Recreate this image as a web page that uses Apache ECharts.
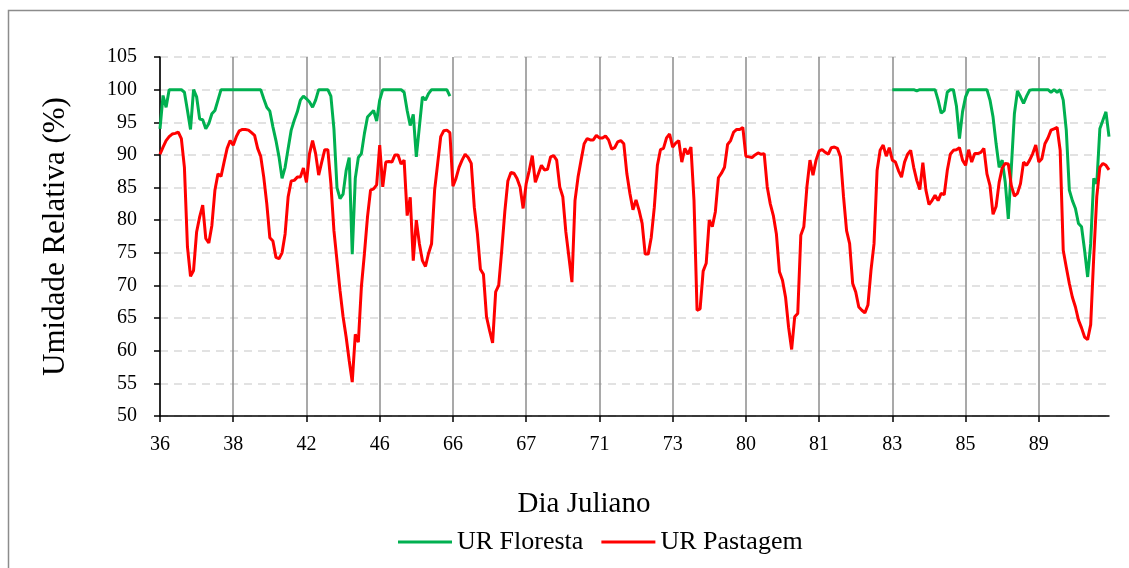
<!DOCTYPE html>
<html>
<head>
<meta charset="utf-8">
<script src="https://cdn.jsdelivr.net/npm/echarts@6/dist/echarts.min.js"></script>
<style>
html,body{margin:0;padding:0;background:#fff;}
#c{width:1129px;height:568px;}
</style>
</head>
<body>
<div id="c"></div>
<script>
// Tick labels (Julian day at each day boundary, hourly data)
const dayLabels = ['36','38','42','46','66','67','71','73','80','81','83','85','89'];
const hoursPerDay = 24;

// UR Pastagem (%), hourly, one row per day
const urPastagem = [
  90.1,91.2,92.2,92.8,93.2,93.3,93.5,92.5,88.1,75.9,71.4,72.3,78.2,80.5,82.3,77.2,76.5,79.2,84.6,87.1,86.7,88.9,91.0,92.2,
  91.5,92.8,93.7,93.9,93.9,93.8,93.4,93.0,91.0,89.8,86.6,82.5,77.3,76.8,74.3,74.1,75.0,77.9,83.6,86.0,86.1,86.6,86.6,88.0,
  85.8,90.2,92.2,90.2,86.9,88.9,90.8,90.8,85.6,78.4,73.8,69.2,65.2,62.1,58.5,55.2,62.5,61.3,69.8,74.9,80.5,84.6,84.8,85.4,
  91.5,85.1,88.9,89.0,88.9,90.0,90.0,88.6,89.2,80.7,83.5,73.8,80.0,76.4,73.8,72.9,74.9,76.4,84.6,88.7,92.8,93.7,93.8,93.4,
  85.2,86.4,88.1,89.2,90.1,89.6,88.7,82.0,78.0,72.5,71.7,65.2,63.1,61.2,69.0,70.0,75.4,81.3,86.0,87.3,87.2,86.4,85.1,81.8,
  85.6,87.6,89.9,85.8,87.1,88.4,87.7,87.8,89.7,89.9,89.2,85.1,83.6,78.2,74.4,70.5,83.0,86.6,89.2,91.7,92.5,92.3,92.3,93.0,
  92.6,92.6,92.9,92.3,90.9,91.1,92.0,92.2,91.7,87.1,84.1,81.6,83.1,81.5,79.5,74.8,74.8,77.4,82.0,88.4,90.8,91.0,92.6,93.2,
  91.2,91.8,92.2,88.9,91.0,90.1,91.2,83.0,66.2,66.4,72.2,73.4,80.0,79.0,81.3,86.5,87.2,88.1,91.6,92.2,93.5,93.9,93.9,94.2,
  89.8,89.7,89.6,90.0,90.3,90.1,90.2,85.1,82.5,80.7,77.9,72.1,70.8,68.2,63.6,60.2,65.2,65.7,77.7,79.0,85.1,89.2,86.9,89.2,
  90.6,90.8,90.4,90.1,91.1,91.2,91.0,89.7,83.6,78.4,76.4,70.3,69.0,66.7,66.2,65.8,67.0,72.3,76.4,87.6,90.7,91.5,89.8,91.1,
  89.2,88.9,87.6,86.6,88.9,90.1,90.7,88.1,86.1,84.7,88.8,84.6,82.4,83.0,83.8,83.0,84.1,83.9,87.6,90.1,90.7,90.8,91.1,89.2,
  88.4,90.8,88.9,90.2,90.2,90.4,91.0,87.1,85.3,80.9,82.1,85.8,88.0,88.7,88.6,85.3,83.7,84.1,85.6,88.9,88.4,89.2,90.2,91.5,
  88.9,89.4,91.7,92.6,93.8,94.0,94.2,90.7,75.4,72.8,70.3,68.2,66.7,64.7,63.5,62.1,61.7,64.0,74.4,83.6,88.1,88.7,88.4,87.7
];

// UR Floresta (%), hourly: first block (days 36-46) and last block (days 83-89+); no data in between
const urFlorestaA = [
  94.0,99.1,97.3,100,100,100,100,100,99.6,96.8,93.9,100,98.9,95.5,95.4,94.0,94.8,96.3,96.8,98.4,100,100,100,100,
  100,100,100,100,100,100,100,100,100,100,98.6,97.3,96.7,94.3,92.2,89.7,86.4,88.1,91.0,93.8,95.3,96.6,98.4,99.0,
  98.6,98.1,97.3,98.4,100,100,100,100,99.0,94.0,85.0,83.3,84.0,87.6,89.6,74.8,86.4,89.6,90.2,93.3,95.8,96.3,96.8,95.2,
  98.4,100,100,100,100,100,100,100,99.6,96.8,94.5,96.2,89.7,94.3,98.9,98.4,99.4,100,100,100,100,100,100,99.0
];
const florestaBStart = 240; // hour index where the second block begins (day 83)
const urFlorestaB = [
  100,100,100,100,100,100,100,100,99.8,100,100,100,100,100,100,98.4,96.4,96.8,99.6,100,100,97.5,92.5,96.6,
  98.9,100,100,100,100,100,100,100,98.4,95.8,91.7,88.1,89.2,85.8,80.2,88.1,96.3,99.8,98.9,97.9,99.0,99.9,100,100,
  100,100,100,100,99.6,100,99.6,100,98.4,93.8,84.6,83.0,81.8,79.5,79.0,75.4,71.3,76.4,86.4,85.6,94.0,95.3,96.6,92.8
];

const N = urPastagem.length;
const categories = Array.from({length: N}, (_, i) => String(i));
const urFloresta = urFlorestaA.concat(
  new Array(florestaBStart - urFlorestaA.length).fill(null),
  urFlorestaB
);

const serif = '"Liberation Serif","Times New Roman",serif';
const chart = echarts.init(document.getElementById('c'));
chart.setOption({
  animation: false,
  backgroundColor: '#fff',
  grid: {left: 160, right: 20, top: 57, bottom: 152, containLabel: false},
  xAxis: {
    type: 'category',
    data: categories,
    boundaryGap: false,
    axisLine: {lineStyle: {color: '#000', width: 1.5}},
    axisTick: {show: true, interval: hoursPerDay - 1, length: 6, lineStyle: {color: '#000', width: 1.5}},
    axisLabel: {
      interval: hoursPerDay - 1,
      formatter: (v, i) => (i % hoursPerDay === 0 ? (dayLabels[i / hoursPerDay] || '') : ''),
      color: '#000', fontFamily: serif, fontSize: 20, margin: 19
    },
    splitLine: {show: true, interval: hoursPerDay - 1, lineStyle: {color: '#8c8c8c', width: 1.5}}
  },
  yAxis: {
    type: 'value',
    min: 50, max: 105, interval: 5,
    name: 'Umidade Relativa (%)',
    nameLocation: 'middle',
    nameGap: 89,
    nameTextStyle: {color: '#000', fontFamily: serif, fontSize: 31},
    axisLine: {show: true, lineStyle: {color: '#000', width: 1.5}},
    axisTick: {show: true, length: 6, lineStyle: {color: '#000', width: 1.5}},
    axisLabel: {color: '#000', fontFamily: serif, fontSize: 20, margin: 23},
    splitLine: {show: true, lineStyle: {color: '#d9d9d9', width: 1.5, type: [8, 6]}}
  },
  legend: {
    left: 398, top: 529, padding: 0,
    icon: 'rect', itemWidth: 54, itemHeight: 3, itemGap: 18,
    textStyle: {color: '#000', fontFamily: serif, fontSize: 26},
    data: ['UR Floresta', 'UR Pastagem']
  },
  graphic: [
    {type: 'rect', silent: true, z: -1,
     shape: {x: 8.5, y: 10.5, width: 1140, height: 620},
     style: {fill: 'none', stroke: '#8c8c8c', lineWidth: 1.5}},
    {type: 'text', silent: true,
     x: 584, y: 504,
     style: {text: 'Dia Juliano', fill: '#000', font: '29px ' + serif, textAlign: 'center', textVerticalAlign: 'middle'}}
  ],
  series: [
    {name: 'UR Floresta', type: 'line', data: urFloresta, symbol: 'none', connectNulls: false,
     lineStyle: {color: '#00B050', width: 3}, itemStyle: {color: '#00B050'}},
    {name: 'UR Pastagem', type: 'line', data: urPastagem, symbol: 'none',
     lineStyle: {color: '#FF0000', width: 3}, itemStyle: {color: '#FF0000'}}
  ]
});
</script>
</body>
</html>
